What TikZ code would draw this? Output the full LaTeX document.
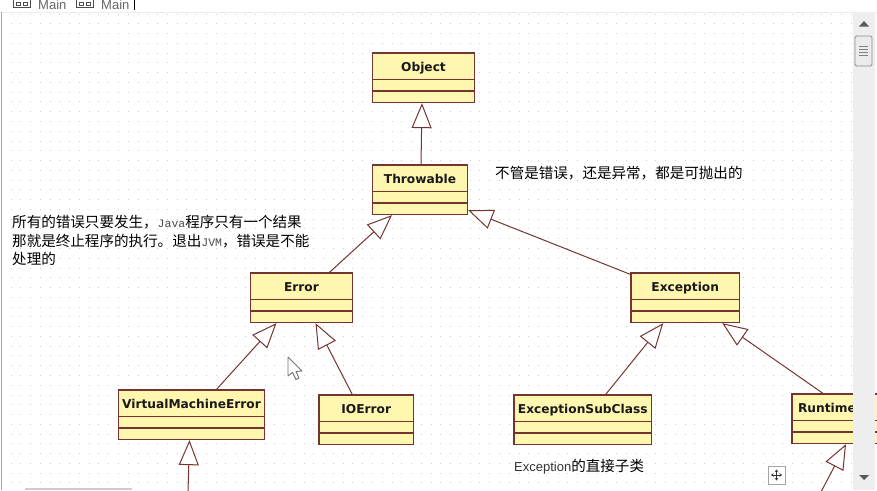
\documentclass[tikz,border=0pt]{standalone}
\usepackage{fontspec}
\setmainfont{DejaVu Sans}
\newfontfamily\cjk{Noto Sans CJK SC}
\newfontfamily\uifont{Liberation Sans}
\newfontfamily\monofont{Liberation Mono}
\usetikzlibrary{arrows.meta,calc}
\definecolor{umlline}{HTML}{743530}
\definecolor{umlfill}{HTML}{FFF6B0}
\definecolor{griddot}{HTML}{CFCFCF}
\definecolor{panel}{HTML}{EEEEEE}
\newcommand{\smalllatin}[1]{{\monofont\fontsize{11.5}{14}\selectfont\textcolor{black!70}{#1}}}
\tikzset{
  classbox/.style={draw=umlline,fill=umlfill,line width=1.25pt,rectangle,
    minimum height=49.5pt,inner ysep=0pt,inner xsep=0pt,
    text height=18pt,text depth=31.5pt,text=black!90,
    font=\fontsize{12.2}{15}\selectfont\bfseries,
    path picture={
      \draw[umlline,line width=1.15pt]
        ([yshift=-26.5pt]path picture bounding box.north west)--([yshift=-26.5pt]path picture bounding box.north east)
        ([yshift=-38pt]path picture bounding box.north west)--([yshift=-38pt]path picture bounding box.north east);}},
  inherit/.style={draw=umlline,line width=1pt,
    -{Triangle[open,length=25pt,width=20pt,fill=white,line width=1pt]}},
  note/.style={inner sep=0pt,anchor=west,text=black,align=left,
    font=\cjk\fontsize{14.55}{18.6}\selectfont},
  tabtext/.style={inner sep=0pt,anchor=west,text=black!60,font=\uifont\fontsize{13}{15}\selectfont},
}
\begin{document}
\begin{tikzpicture}[x=1pt,y=-1pt]
\useasboundingbox (0,0) rectangle (877,490);
\fill[white] (0,0) rectangle (877,490);
% grid
\foreach \i in {0,...,86}{\foreach \j in {0,...,48}{
  \fill[griddot] ({11+\i*9.77-0.5},{14+\j*9.77-0.5}) rectangle ++(1,1);}}
% window chrome
\fill[panel] (0,11.5) rectangle (877,13);
\fill[black!35] (0.5,12) rectangle (1.8,490);
\fill[black!20] (25,487.5) rectangle (132,490);
\draw[black!70,fill=white,line width=.8pt] (13,-3) rectangle (30,7);
\draw[black!70,fill=white,line width=.8pt] (76,-3) rectangle (93,7);
\draw[black!70,line width=.8pt] (16,2) rectangle (20,5) (23,2) rectangle (27,5) (79,2) rectangle (83,5) (86,2) rectangle (90,5);
\node[tabtext] (tabA) at (38,5) {Main};
\node[tabtext] (tabB) at (101,5) {Main};
\draw[black,line width=.8pt] (134,0) -- (134,10);
% classes
\node[classbox,minimum width=102pt] (object) at (423.5,77.75) {Object};
\node[classbox,minimum width=95pt] (throwable) at (420,189.75) {Throwable};
\node[classbox,minimum width=102pt] (error) at (301.5,297.75) {Error};
\node[classbox,minimum width=108.5pt] (exception) at (685.25,297.75) {Exception};
\node[classbox,minimum width=146pt] (vme) at (191.5,414.75) {VirtualMachineError};
\node[classbox,minimum width=94.5pt] (ioerror) at (366.25,419.75) {IOError};
\node[classbox,minimum width=137.5pt] (subclass) at (582.75,419.75) {ExceptionSubClass};
\node[classbox,text width=122pt,align=left,inner xsep=6pt,minimum width=134pt] (runtime) at (859,418.75) {Runtime};
% free ends
\coordinate (vmeChild) at (188,492);
\coordinate (rtChild) at (821,492);
% connectors
\draw[inherit] ([xshift=1pt]throwable.north) -- ([xshift=-1.5pt]object.south);
\draw[inherit] ([xshift=28pt]error.north) -- ([xshift=-28pt]throwable.south);
\draw[inherit] ([yshift=-2pt]exception.north west) -- ([yshift=5pt]throwable.south east);
\draw[inherit] ([xshift=25pt]vme.north) -- ([xshift=-25pt]error.south);
\draw[inherit] ([xshift=-14pt]ioerror.north) -- ([xshift=14pt]error.south);
\draw[inherit] ([xshift=23pt]subclass.north) -- ([xshift=-22pt]exception.south);
\draw[inherit] ([xshift=-36pt]runtime.north) -- ([xshift=37pt]exception.south);
\draw[inherit] (vmeChild) -- ([xshift=-2pt]vme.south);
\draw[inherit] (rtChild) -- ([xshift=-13pt]runtime.south);
% notes
\node[note] (noteA) at (495,173) {不管是错误，还是异常，都是可抛出的};
\node[note] (noteB) at (12,240.5) {所有的错误只要发生，\smalllatin{Java}程序只有一个结果\\那就是终止程序的执行。退出\smalllatin{JVM}，错误是不能\\处理的};
\node[note] (noteC) at (514,467) {{\uifont\fontsize{13}{16}\selectfont\textcolor{black!80}{Exception}}的直接子类};
% scrollbar panel
\fill[panel] (853,13) rectangle (875,490);
\fill[black!65] (859,26.5) -- (869,26.5) -- (864,21) -- cycle;
\fill[black!65] (859,475) -- (869,475) -- (864,480) -- cycle;
\draw[black!45,fill=black!8,rounded corners=1.5pt,line width=.8pt] (855,36) rectangle (872,66);
\draw[black!50,line width=.8pt] (859,46.5) -- (868,46.5) (859,49.5) -- (868,49.5) (859,52.5) -- (868,52.5) (859,55.5) -- (868,55.5);
% move icon
\draw[black!35,fill=white,line width=1pt] (768,466.5) rectangle (785,484);
\draw[black!80,line width=.9pt,{Stealth[length=2.5pt,width=3.5pt]}-{Stealth[length=2.5pt,width=3.5pt]}] (771,475) -- (782,475);
\draw[black!80,line width=.9pt,{Stealth[length=2.5pt,width=3.5pt]}-{Stealth[length=2.5pt,width=3.5pt]}] (776.5,469.5) -- (776.5,480.5);
% mouse pointer
\draw[black!55,fill=white,line width=.9pt,line join=round] (288,357) -- (288,376) -- (292.5,372.5) -- (296,379.5) -- (299,378) -- (296,371.5) -- (302,371) -- cycle;
\end{tikzpicture}
\end{document}
